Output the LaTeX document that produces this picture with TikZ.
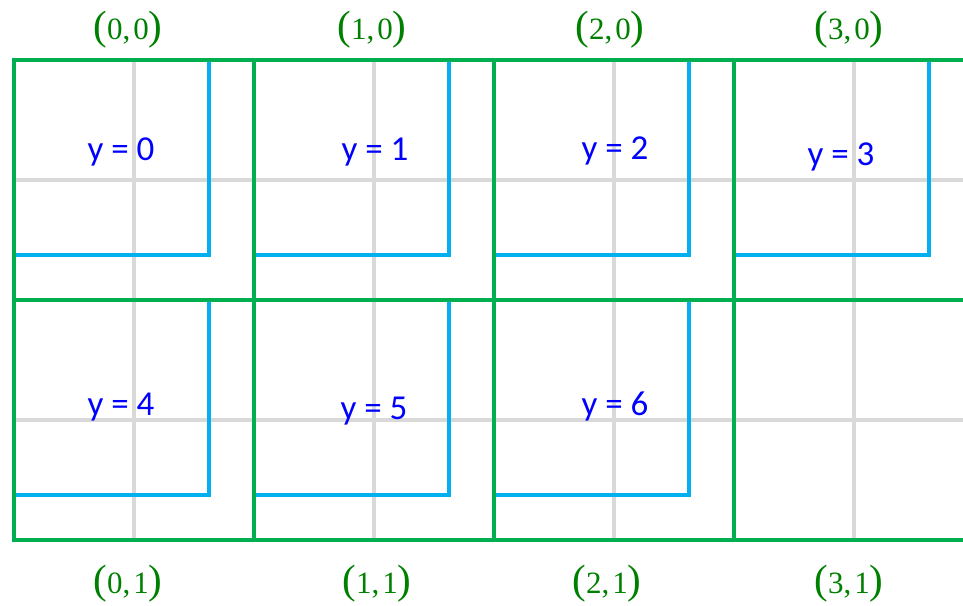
\documentclass[tikz,border=0pt]{standalone}
\usepackage{fontspec}
\setmainfont{Liberation Serif}
\newfontfamily\valfont{Carlito}
\definecolor{gridgreen}{RGB}{0,176,80}
\definecolor{guidegray}{RGB}{217,217,217}
\definecolor{tileblue}{RGB}{0,176,240}
\definecolor{coordgreen}{RGB}{0,128,0}
\newcommand{\bigparen}[1]{{\fontsize{41}{41}\selectfont #1}}
\newcommand{\blockxy}[2]{\bigparen{(}#1,\kern3pt#2\bigparen{)}}
\begin{document}
\begin{tikzpicture}[x=1pt,y=-1pt,
  guide/.style={guidegray,line width=4pt},
  cellbox/.style={gridgreen,line width=4.2pt},
  tile/.style={tileblue,line width=3.5pt},
  yval/.style={blue,font=\valfont\fontsize{35}{40}\selectfont,anchor=base,inner sep=0pt},
  coord/.style={coordgreen,font=\fontsize{31}{36}\selectfont,anchor=base,inner sep=0pt}]
\useasboundingbox (0,0) rectangle (963,605);
\clip (0,0) rectangle (963,605);
% light guide lines through the cell centres
\foreach \x in {134,374,614,854} \draw[guide] (\x,60) -- (\x,540);
\foreach \y in {180,420} \draw[guide] (14,\y) -- (980,\y);
% blue tiles: right and bottom edges
\foreach \i/\j in {0/0,1/0,2/0,3/0,0/1,1/1,2/1}
  \draw[tile] ({14+240*\i+195},{60+240*\j}) -- ++(0,195) -- ++(-195,0);
% green cell grid
\foreach \i in {0,...,3}
  \foreach \j in {0,1}
    \draw[cellbox] ({14+240*\i},{60+240*\j}) rectangle ++(240,240);
% tile values
\node[yval] (v0) at (121,160) {y = 0};
\node[yval] (v1) at (375,160) {y = 1};
\node[yval] (v2) at (615,159) {y = 2};
\node[yval] (v3) at (841,165) {y = 3};
\node[yval] (v4) at (121,415) {y = 4};
\node[yval] (v5) at (374,419) {y = 5};
\node[yval] (v6) at (615,415) {y = 6};
% block coordinates
\node[coord] (c00) at (128,39) {\blockxy{0}{0}};
\node[coord] (c10) at (372,39) {\blockxy{1}{0}};
\node[coord] (c20) at (610,39) {\blockxy{2}{0}};
\node[coord] (c30) at (849,39) {\blockxy{3}{0}};
\node[coord] (c01) at (128,593) {\blockxy{0}{1}};
\node[coord] (c11) at (377,593) {\blockxy{1}{1}};
\node[coord] (c21) at (607,593) {\blockxy{2}{1}};
\node[coord] (c31) at (849,593) {\blockxy{3}{1}};
\end{tikzpicture}
\end{document}
